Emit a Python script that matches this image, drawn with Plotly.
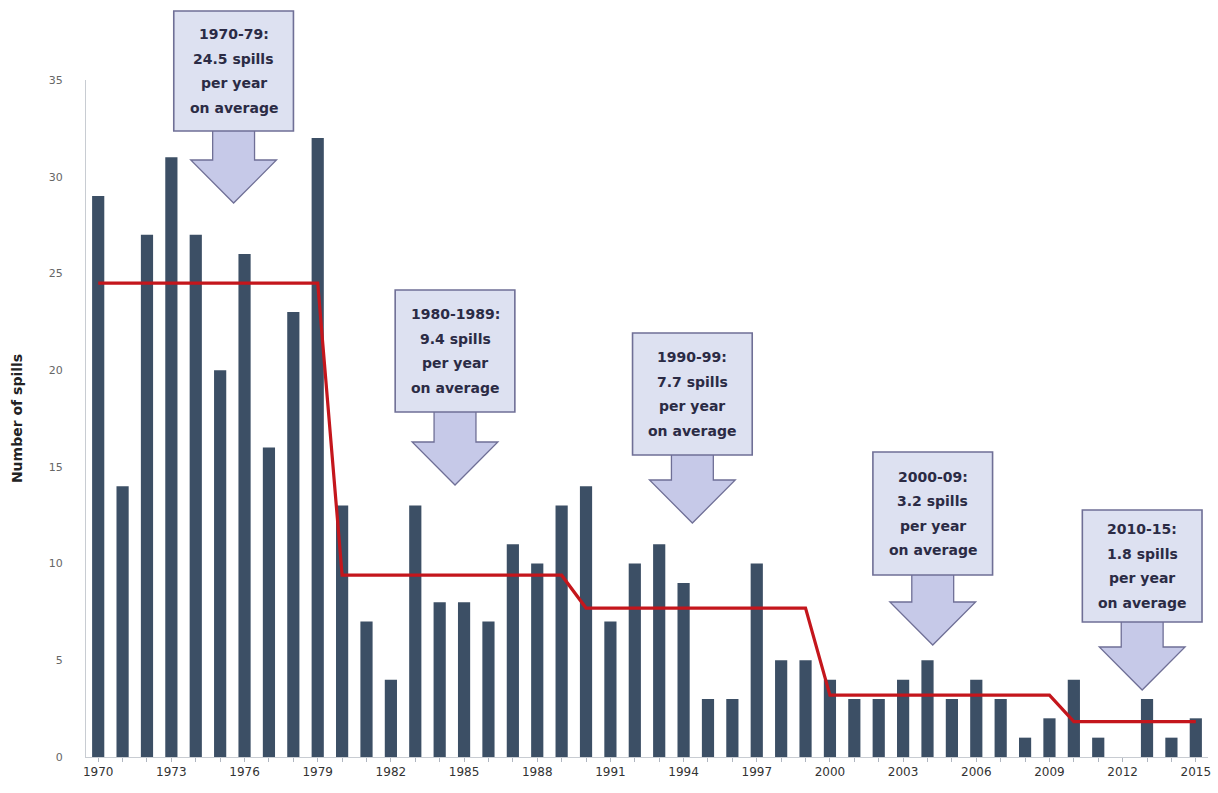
import plotly.graph_objects as go

years = list(range(1970, 2016))
spills = [29, 14, 27, 31, 27, 20, 26, 16, 23, 32,
          13, 7, 4, 13, 8, 8, 7, 11, 10, 13,
          14, 7, 10, 11, 9, 3, 3, 10, 5, 5,
          4, 3, 3, 4, 5, 3, 4, 3, 1, 2,
          4, 1, 0, 3, 1, 2]
periods = [(1970, 1979), (1980, 1989), (1990, 1999), (2000, 2009), (2010, 2015)]
callout_texts = [
    ["1970-79:", "24.5 spills", "per year", "on average"],
    ["1980-1989:", "9.4 spills", "per year", "on average"],
    ["1990-99:", "7.7 spills", "per year", "on average"],
    ["2000-09:", "3.2 spills", "per year", "on average"],
    ["2010-15:", "1.8 spills", "per year", "on average"],
]
x_tick_years = list(range(1970, 2016, 3))
y_ticks = [0, 5, 10, 15, 20, 25, 30, 35]

# period averages for each year
avg_line = []
for y in years:
    for a, b in periods:
        if a <= y <= b:
            vals = [s for yy, s in zip(years, spills) if a <= yy <= b]
            avg_line.append(sum(vals) / len(vals))

W, H = 1218, 793
L, R, T, B = 86, 7, 80, 36

fig = go.Figure()
fig.add_trace(go.Bar(x=years, y=spills, marker=dict(color="#3c4f65", line=dict(width=0)),
                     width=0.5, showlegend=False))
fig.add_trace(go.Scatter(x=years, y=avg_line, mode="lines",
                         line=dict(color="#c4161c", width=3.2), showlegend=False))

def px(x):
    return (x - L) / (W - L - R)

def py(y):
    return (H - B - y) / (H - T - B)

# callout geometry in pixels: box (x0, y0, x1, y1), arrow head bottom tip y
callouts = [
    (174, 11, 294, 131, 203),
    (396, 290, 516, 412, 485),
    (634, 333, 754, 455, 523),
    (875, 452, 995, 575, 645),
    (1085, 510, 1205, 622, 690),
]
shapes = []
annotations = []
for (x0, y0, x1, y1, tip), lines in zip(callouts, callout_texts):
    cx = (x0 + x1) / 2
    shaft_half = 21
    head_half = 43
    head_top = tip - 43
    pts = [(cx - shaft_half, y1 - 2), (cx - shaft_half, head_top), (cx - head_half, head_top),
           (cx, tip), (cx + head_half, head_top), (cx + shaft_half, head_top),
           (cx + shaft_half, y1 - 2)]
    path = "M " + " L ".join(f"{px(a):.5f},{py(b):.5f}" for a, b in pts) + " Z"
    shapes.append(dict(type="path", xref="paper", yref="paper", path=path,
                       fillcolor="#c6c9e8", line=dict(color="#6f6f96", width=1.3), layer="above"))
    shapes.append(dict(type="rect", xref="paper", yref="paper",
                       x0=px(x0), x1=px(x1), y0=py(y1), y1=py(y0),
                       fillcolor="#dde1f1", line=dict(color="#6f6f96", width=1.6), layer="above"))
    cy = (y0 + y1) / 2
    spacing = 24.5
    for i, t in enumerate(lines):
        ly = cy + (i - 1.5) * spacing
        annotations.append(dict(xref="paper", yref="paper", x=px(cx), y=py(ly),
                                text=f"<b>{t}</b>", showarrow=False, align="center",
                                font=dict(family="DejaVu Sans", size=14, color="#2b2b45"),
                                xanchor="center", yanchor="middle"))

fig.update_layout(
    width=W, height=H,
    margin=dict(l=L, r=R, t=T, b=B),
    paper_bgcolor="white", plot_bgcolor="white",
    bargap=0.5,
    shapes=shapes, annotations=annotations,
    xaxis=dict(range=[1969.5, 2015.5], tickvals=x_tick_years,
               ticktext=[str(v) for v in x_tick_years],
               showgrid=False, zeroline=False, showline=True, linecolor="#c8ccd2",
               ticks="outside", ticklen=4, tickcolor="#b0b6c0",
               minor=dict(dtick=1, ticks="outside", ticklen=4, tickcolor="#b0b6c0"),
               tickfont=dict(family="DejaVu Sans", size=12, color="#333"),
               fixedrange=True),
    yaxis=dict(range=[0, 35], tickvals=y_ticks, showgrid=False, zeroline=False,
               showline=True, linecolor="#c8ccd2",
               tickfont=dict(family="DejaVu Sans", size=11, color="#666"),
               ticklabelstandoff=20,
               title=dict(text="<b>Number of spills</b>", standoff=22,
                          font=dict(family="DejaVu Sans", size=14, color="#222"))),
)

fig.write_html("out.html")
